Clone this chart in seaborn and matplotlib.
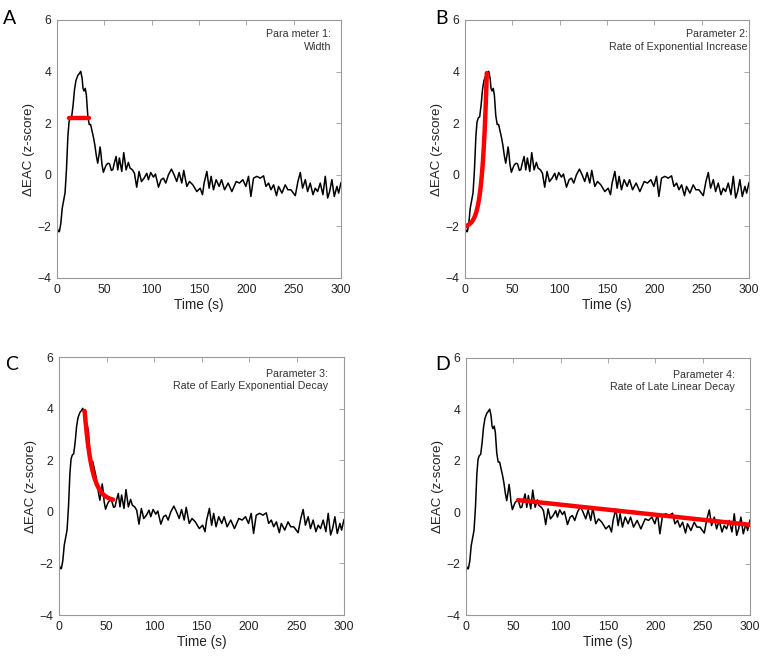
import numpy as np
import pandas as pd
import matplotlib
matplotlib.use("Agg")
import matplotlib.pyplot as plt
import seaborn as sns

# shared EAC trace (same in all four panels)
time_s = [0, 1.5, 2.5, 4, 5.5, 7, 8.5, 10, 11.5, 12.7, 14, 15.5, 17, 18.5, 20, 22, 23.5, 25,
          26.5, 27.5, 28.5, 29.8, 31, 32.5, 34, 35.5, 37, 38.5, 40, 41.5, 43, 44.5, 45.5, 46.5,
          47.5, 49, 50.5, 52, 54, 55.5, 57.5, 59, 60.5, 62.4, 64.2, 65.9, 68.4, 70.5, 73, 75.4,
          77.2, 79.7, 81.8, 84.2, 86.7, 89.2, 92, 94.8, 96.6, 99, 101.9, 104, 107.2, 110, 112.4,
          114.9, 117.7, 120.9, 123.7, 126.5, 129, 131.8, 133.9, 137.1, 140, 143.5, 147.7, 151.2,
          153.7, 155.4, 158.3, 160.7, 162.8, 165.3, 168.1, 171.3, 173.8, 177, 180.8, 184.7,
          189.3, 192.8, 196.3, 199.5, 202.3, 204.8, 207.6, 211.1, 214.7, 218.2, 220.7, 223.5,
          226, 228.8, 231.9, 234, 237.6, 241.1, 243.9, 247.1, 251.7, 254.5, 257, 259.4, 262.3,
          264.7, 267.5, 270.4, 272.8, 275.3, 278.1, 280.9, 283.4, 285.9, 288, 290.4, 292.9,
          295.7, 297.5, 300]
eac_z = [-2.05, -2.2, -2.2, -1.9, -1.3, -1.0, -0.7, 0.2, 1.5, 2.05, 2.2, 2.25, 2.7, 3.3, 3.65,
         3.85, 3.92, 4.01, 3.75, 3.35, 3.25, 3.35, 3.1, 2.3, 1.95, 1.95, 1.7, 1.45, 1.15, 0.75,
         0.45, 0.8, 1.08, 0.8, 0.4, 0.1, 0.25, 0.38, 0.45, 0.42, 0.17, 0.2, 0.45, 0.71, 0.19,
         0.65, 0.13, 0.86, 0.19, 0.48, 0.26, 0.19, 0.06, -0.48, 0.13, -0.26, -0.13, 0.06, -0.19,
         0.09, -0.09, 0.03, -0.48, -0.19, -0.13, -0.32, 0.0, 0.22, 0.0, -0.26, 0.09, -0.32, 0.17,
         -0.45, -0.26, -0.39, -0.65, -0.52, -0.77, -0.32, 0.13, -0.52, -0.06, -0.58, -0.19,
         -0.45, -0.19, -0.58, -0.32, -0.65, -0.26, -0.32, -0.19, -0.45, -0.06, -0.84, -0.13,
         -0.06, -0.13, -0.04, -0.45, -0.32, -0.58, -0.39, -0.81, -0.45, -0.71, -0.39, -0.58,
         -0.58, -0.81, -0.26, 0.09, -0.52, -0.19, -0.65, -0.32, -0.77, -0.52, -0.65, -0.32,
         -0.77, -0.06, -0.90, -0.65, -0.19, -0.84, -0.45, -0.71, -0.30]

# red overlays
width_t = [13, 33.5]
width_z = [2.19, 2.19]
rise_window = (0, 23)            # exponential increase fit: off + amp*(exp(k t) - 1)
rise_fit = (-2.0, 0.0525, 0.206)
decay_window = (27, 57)          # early exponential decay fit: off + amp*exp(-k (t - t0))
decay_fit = (0.4, 3.51, 0.13)
late_t = [55, 300]
late_z = [0.47, -0.49]

panel_letters = ["A", "B", "C", "D"]
panel_notes = ["Para meter 1:\nWidth", "Parameter 2:\nRate of Exponential Increase",
               "Parameter 3:\nRate of Early Exponential Decay",
               "Parameter 4:\nRate of Late Linear Decay"]

sns.set_theme(style="white")
plt.rcParams["font.family"] = ["Liberation Sans", "DejaVu Sans"]

W, H = 767, 656
fig = plt.figure(figsize=(W / 100, H / 100), dpi=100)

# axes boxes in pixels: left, top, right, bottom
boxes = [(57, 20, 341, 278), (465, 20, 749, 278), (59, 357, 344, 615), (466, 358, 750, 615)]
note_xy = [(0.965, 0.965), (0.995, 0.965), (0.945, 0.955), (0.947, 0.955)]
letter_xy = [(3, 19), (435, 19), (5, 364), (435, 365)]

trace = pd.DataFrame({"t": time_s, "z": eac_z})

for i, (l, t, r, b) in enumerate(boxes):
    ax = fig.add_axes([l / W, 1 - b / H, (r - l) / W, (b - t) / H])
    sns.lineplot(data=trace, x="t", y="z", ax=ax, color="black", lw=1.1, sort=False)

    if i == 0:
        sns.lineplot(x=width_t, y=width_z, ax=ax, color="#ff0000", lw=3.2, sort=False)
    elif i == 1:
        tt = np.linspace(*rise_window, 100)
        off, amp, k = rise_fit
        sns.lineplot(x=tt, y=off + amp * (np.exp(k * tt) - 1), ax=ax, color="#ff0000",
                     lw=3.2, sort=False)
    elif i == 2:
        tt = np.linspace(*decay_window, 100)
        off, amp, k = decay_fit
        sns.lineplot(x=tt, y=off + amp * np.exp(-k * (tt - decay_window[0])), ax=ax,
                     color="#ff0000", lw=3.2, sort=False)
    else:
        sns.lineplot(x=late_t, y=late_z, ax=ax, color="#ff0000", lw=3.2, sort=False)

    ax.set_xlim(0, 300)
    ax.set_ylim(-4, 6)
    ax.set_xticks(range(0, 301, 50))
    ax.set_yticks(range(-4, 7, 2))
    ax.tick_params(direction="in", top=True, right=True, length=3.5, width=0.6,
                   color="#999999", labelsize=8.7, labelcolor="#222222", pad=4)
    for sp in ax.spines.values():
        sp.set_color("#999999")
        sp.set_linewidth(0.8)
    ax.set_xlabel("Time (s)", fontsize=9.8, color="#222222", labelpad=2)
    ax.set_ylabel("ΔEAC (z-score)", fontsize=9.6, color="#222222", labelpad=2)

    ax.text(note_xy[i][0], note_xy[i][1], panel_notes[i], transform=ax.transAxes,
            ha="right", va="top", multialignment="right", fontsize=7.7, color="#333333",
            linespacing=1.35)
    fig.text(letter_xy[i][0] / W, 1 - letter_xy[i][1] / H, panel_letters[i],
             ha="left", va="center", fontsize=14, family="Lato", color="black")

fig.savefig("out.png", dpi=100)
